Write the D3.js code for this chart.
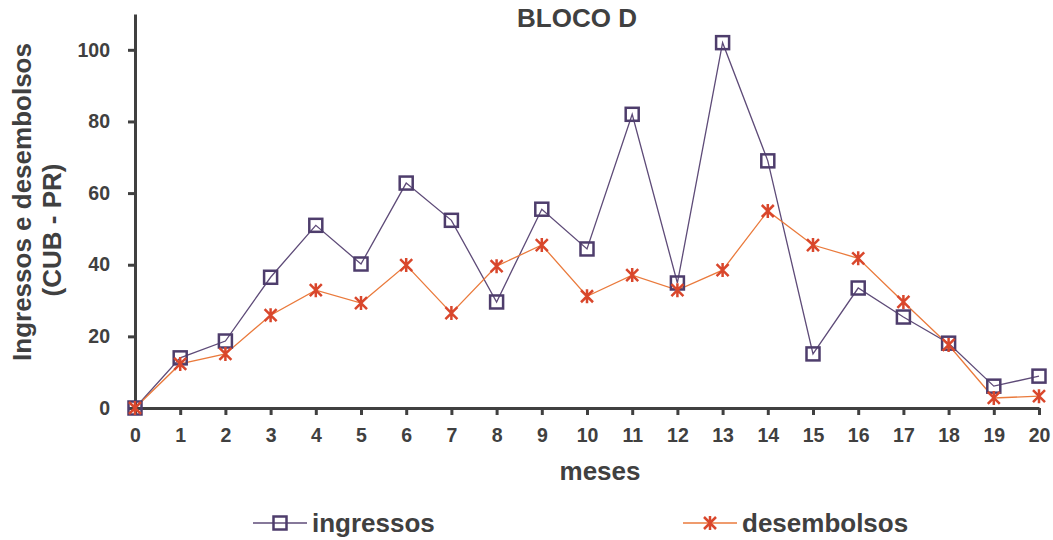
<!DOCTYPE html>
<html>
<head>
<meta charset="utf-8">
<script src="https://cdn.jsdelivr.net/npm/d3@7"></script>
<style>
  body { margin: 0; background: #fff; }
  text { font-family: "Liberation Sans", Arial, sans-serif; font-weight: bold; fill: #404040; }
</style>
</head>
<body>
<div id="chart"></div>
<script>
// data
const meses = d3.range(0, 21);
const ingressos = [0, 14, 18.7, 36.5, 51, 40.2, 62.8, 52.4, 29.6, 55.5, 44.4, 82, 34.9, 102, 69, 15.1, 33.5, 25.4, 18.1, 6.1, 8.9];
const desembolsos = [0, 12.3, 15.1, 25.9, 32.9, 29.3, 39.9, 26.5, 39.6, 45.5, 31.2, 37.1, 32.9, 38.5, 55, 45.5, 41.8, 29.6, 17.6, 2.8, 3.3];
const yTicks = [0, 20, 40, 60, 80, 100];

let width = 1053, height = 540;
let margin = { top: 14, bottom: 132, left: 135, right: 14 };

let svg = d3.select('#chart')
    .append('svg')
    .attr('width', width)
    .attr('height', height);

let xScale = d3.scaleLinear()
    .domain([0, 20])
    .range([margin.left, width - margin.right]);

let yScale = d3.scaleLinear()
    .domain([0, 110])
    .range([408, margin.top]);

// axes
let xAxis = svg.append('g')
    .attr('transform', `translate(0, ${yScale(0)})`)
    .call(d3.axisBottom(xScale).tickValues(meses).tickSize(7).tickPadding(13).tickSizeOuter(0));

let yAxis = svg.append('g')
    .attr('transform', `translate(${margin.left}, 0)`)
    .call(d3.axisLeft(yScale).tickValues(yTicks).tickSize(7).tickPadding(18).tickSizeOuter(0));

[xAxis, yAxis].forEach(a => {
    a.select('.domain').attr('stroke', '#404040').attr('stroke-width', 3);
    a.selectAll('.tick line').attr('stroke', '#404040').attr('stroke-width', 3);
    a.selectAll('.tick text').style('font-size', '19.5px').style('font-family', '"Liberation Sans", Arial, sans-serif')
        .style('font-weight', 'bold').attr('fill', '#404040');
});

// lines
const line = d3.line().x((d, i) => xScale(meses[i])).y(d => yScale(d));

svg.append('path')
    .datum(ingressos)
    .attr('d', line)
    .attr('fill', 'none')
    .attr('stroke', '#5e4b78')
    .attr('stroke-width', 1.3);

svg.append('path')
    .datum(desembolsos)
    .attr('d', line)
    .attr('fill', 'none')
    .attr('stroke', '#ea7a3c')
    .attr('stroke-width', 1.3);

// markers
function square(g, x, y) {
    g.append('rect')
        .attr('x', x - 6.5).attr('y', y - 6.5)
        .attr('width', 13).attr('height', 13)
        .attr('fill', 'none')
        .attr('stroke', '#4e3d6c')
        .attr('stroke-width', 2.5);
}
function star(g, x, y) {
    const s = 6;
    g.append('path')
        .attr('d', `M${x - s},${y - s}L${x + s},${y + s}M${x - s},${y + s}L${x + s},${y - s}M${x},${y - s - 1}L${x},${y + s + 1}`)
        .attr('stroke', '#d9472c')
        .attr('stroke-width', 2.5);
}

let marks = svg.append('g');
ingressos.forEach((d, i) => square(marks, xScale(meses[i]), yScale(d)));
desembolsos.forEach((d, i) => star(marks, xScale(meses[i]), yScale(d)));

// title
svg.append('text')
    .attr('x', 577).attr('y', 27)
    .attr('text-anchor', 'middle')
    .style('font-size', '26px')
    .text('BLOCO D');

// x label
svg.append('text')
    .attr('x', 600).attr('y', 480)
    .attr('text-anchor', 'middle')
    .style('font-size', '26px')
    .text('meses');

// y label
svg.append('text')
    .attr('transform', 'translate(31, 202) rotate(-90)')
    .attr('text-anchor', 'middle')
    .style('font-size', '26px')
    .text('Ingressos e desembolsos');
svg.append('text')
    .attr('transform', 'translate(61, 230) rotate(-90)')
    .attr('text-anchor', 'middle')
    .style('font-size', '26px')
    .text('(CUB - PR)');

// legend
const legendItems = [
    { name: 'ingressos', x: 253, color: '#5e4b78', mark: square },
    { name: 'desembolsos', x: 683, color: '#ea7a3c', mark: star }
];
legendItems.forEach(item => {
    let g = svg.append('g');
    g.append('line')
        .attr('x1', item.x).attr('x2', item.x + 54)
        .attr('y1', 523).attr('y2', 523)
        .attr('stroke', item.color).attr('stroke-width', 1.5);
    item.mark(g, item.x + 27, 523);
    g.append('text')
        .attr('x', item.x + 59).attr('y', 532)
        .style('font-size', '26px')
        .text(item.name);
});
</script>
</body>
</html>
